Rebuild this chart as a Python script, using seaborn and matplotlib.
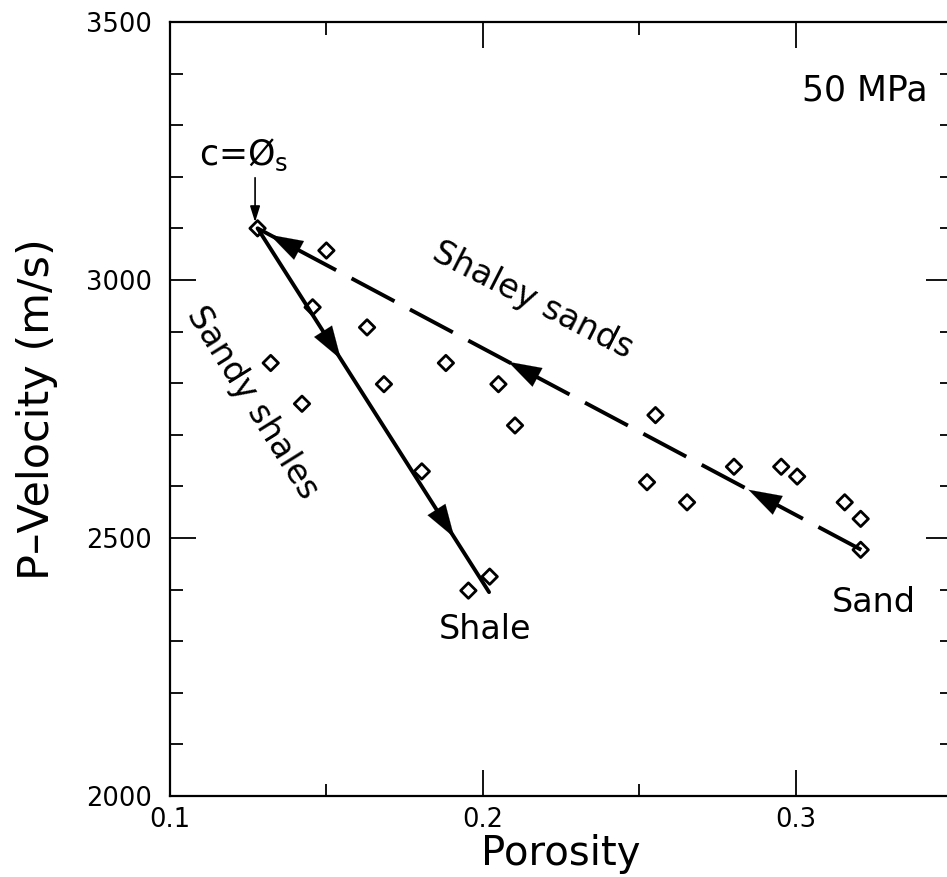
import numpy as np
import pandas as pd
import matplotlib
matplotlib.use("Agg")
import matplotlib.pyplot as plt
from matplotlib.ticker import MultipleLocator
import seaborn as sns

# ---- data ----
porosity = [0.128, 0.150, 0.1456, 0.163, 0.1322, 0.1684, 0.1422, 0.1882, 0.205,
            0.2103, 0.1805, 0.2022, 0.1954, 0.2552, 0.2525, 0.2653, 0.2803,
            0.2954, 0.3005, 0.3157, 0.3208, 0.3208]
velocity = [3100, 3057, 2947, 2908, 2839, 2798, 2760, 2839, 2798,
            2718, 2629, 2425, 2398, 2738, 2608, 2569, 2638,
            2638, 2619, 2569, 2537, 2477]

# trend lines: sandy shales (critical point -> shale), shaley sands (sand -> critical point)
shale_line_x = [0.128, 0.202]
shale_line_y = [3100, 2395]
sand_line_x = [0.321, 0.128]
sand_line_y = [2477, 3100]

# arrow head positions as fractions along each line
shale_arrow_frac = [0.36, 0.85]
sand_arrow_frac = [0.187, 0.585, 0.98]

sns.set_theme(style="ticks")
plt.rcParams['font.family'] = ['DejaVu Sans']
plt.rcParams['text.color'] = 'black'
plt.rcParams['axes.labelcolor'] = 'black'
plt.rcParams['xtick.color'] = 'black'
plt.rcParams['ytick.color'] = 'black'

fig = plt.figure(figsize=(9.47, 8.77), dpi=100)
ax = fig.add_axes([0.1795, 0.0924, 0.8258, 0.8826])

# data points
sns.scatterplot(x=porosity, y=velocity, marker='D', s=62, color='black',
                edgecolor='black', linewidth=2.0, ax=ax, zorder=4)
ax.collections[-1].set_facecolor('none')

# solid line (sandy shales)
sns.lineplot(x=shale_line_x, y=shale_line_y, color='black', lw=2.8,
             sort=False, estimator=None, ax=ax)
# dashed line (shaley sands)
sns.lineplot(x=sand_line_x, y=sand_line_y, color='black', lw=2.8,
             sort=False, estimator=None, ax=ax)
ax.lines[-1].set_dashes([12.5, 4.5])
ax.lines[-1].set_dash_capstyle('butt')


def add_heads(xs, ys, fracs):
    dx = xs[1] - xs[0]
    dy = ys[1] - ys[0]
    for f in fracs:
        tip = (xs[0] + f * dx, ys[0] + f * dy)
        tail = (xs[0] + (f - 0.08) * dx, ys[0] + (f - 0.08) * dy)
        ax.annotate('', xy=tip, xytext=tail,
                    arrowprops=dict(arrowstyle='-|>,head_length=1.25,head_width=0.4',
                                    mutation_scale=19, color='black', lw=0.1,
                                    shrinkA=0, shrinkB=0), zorder=5)


add_heads(shale_line_x, shale_line_y, shale_arrow_frac)
add_heads(sand_line_x, sand_line_y, sand_arrow_frac)

ax.set_xlim(0.1, 0.35)
ax.set_ylim(2000, 3500)
ax.xaxis.set_major_locator(MultipleLocator(0.1))
ax.xaxis.set_minor_locator(MultipleLocator(0.05))
ax.yaxis.set_major_locator(MultipleLocator(500))
ax.yaxis.set_minor_locator(MultipleLocator(100))
ax.xaxis.set_major_formatter(plt.FuncFormatter(lambda v, p: f"{v:.1f}"))

ax.tick_params(which='both', direction='in', top=True, right=True,
               color='black', labelcolor='black', width=1.3)
ax.tick_params(which='major', length=19, labelsize=18.5)
ax.tick_params(axis='y', which='major', pad=13)
ax.tick_params(axis='x', which='major', pad=8)
ax.tick_params(which='minor', length=9)
for sp in ax.spines.values():
    sp.set_linewidth(1.6)
    sp.set_color('black')

ax.set_xlabel('Porosity', fontsize=29, labelpad=1, color='black')
ax.set_ylabel('P\u2013Velocity (m/s)', fontsize=31, labelpad=20, color='black')

# annotations
ax.text(0.322, 3368, '50 MPa', fontsize=25, ha='center', va='center')
ax.text(0.216, 2961, 'Shaley sands', fontsize=24, ha='center', va='center',
        rotation=-27, rotation_mode='anchor')
ax.text(0.1265, 2762, 'Sandy shales', fontsize=24, ha='center', va='center',
        rotation=-58, rotation_mode='anchor')
ax.text(0.2006, 2322, 'Shale', fontsize=24, ha='center', va='center')
ax.text(0.3249, 2374, 'Sand', fontsize=24, ha='center', va='center')
ax.text(0.1093, 3223, 'c=\u00d8$_\\mathregular{s}$', fontsize=25, ha='left', va='baseline')
ax.annotate('', xy=(0.1272, 3112), xytext=(0.1272, 3198),
            arrowprops=dict(arrowstyle='-|>,head_length=0.8,head_width=0.25',
                            mutation_scale=12, color='black', lw=1.2,
                            shrinkA=0, shrinkB=0))

fig.savefig('out.png', dpi=100)
